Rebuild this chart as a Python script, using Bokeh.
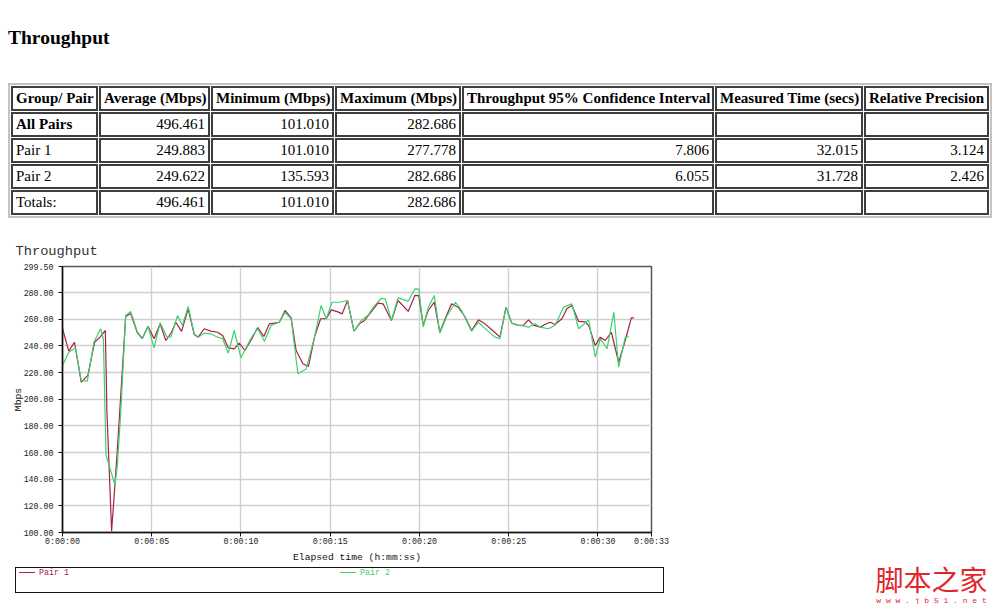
from bokeh.plotting import figure
from bokeh.models import (Range1d, FixedTicker, PrintfTickFormatter, Div, Label)
from bokeh.layouts import column, row
from bokeh.embed import file_html
from bokeh.resources import INLINE

# ---------------- data ----------------
table_headers = ["Group/ Pair", "Average (Mbps)", "Minimum (Mbps)", "Maximum (Mbps)",
                 "Throughput 95% Confidence Interval", "Measured Time (secs)",
                 "Relative Precision"]
row_names = ["All Pairs", "Pair 1", "Pair 2", "Totals:"]
avg_mbps = ["496.461", "249.883", "249.622", "496.461"]
min_mbps = ["101.010", "101.010", "135.593", "101.010"]
max_mbps = ["282.686", "277.778", "282.686", "282.686"]
conf_95 = ["", "7.806", "6.055", ""]
measured_secs = ["", "32.015", "31.728", ""]
rel_precision = ["", "3.124", "2.426", ""]

series_names = ["Pair 1", "Pair 2"]

pair1_time = [0.00, 0.35, 0.67, 1.05, 1.42, 1.80, 2.10, 2.40, 2.49, 2.66,
              2.75, 2.88, 3.07, 3.54, 3.82, 4.19, 4.47, 4.79, 5.13, 5.47,
              5.79, 6.10, 6.35, 6.67, 7.04, 7.38, 7.60, 7.94, 8.31, 8.69,
              8.97, 9.29, 9.62, 9.90, 10.22, 10.59, 10.94, 11.28, 11.59, 11.85,
              12.15, 12.47, 12.81, 13.09, 13.47, 13.78, 14.12, 14.46, 14.78, 15.06,
              15.43, 15.67, 15.97, 16.33, 16.65, 16.93, 17.15, 17.68, 17.96, 18.43,
              18.80, 19.37, 19.74, 19.96, 20.21, 20.49, 20.83, 21.14, 21.46, 21.80,
              22.17, 22.54, 22.92, 23.30, 23.67, 24.10, 24.51, 24.85, 25.17, 25.55,
              25.83, 26.11, 26.39, 26.76, 27.02, 27.32, 27.60, 27.98, 28.26, 28.54,
              28.92, 29.29, 29.49, 29.85, 30.13, 30.41, 30.75, 31.16, 31.53, 31.87,
              32.02]
pair1_mbps = [253, 236, 242.7, 212.8, 217.8, 242.7, 246.5, 251.5, 190, 133,
              101.01, 125, 161.5, 262, 264.2, 250, 245.5, 254.7, 245.3, 256.5,
              244, 250, 257.7, 250.8, 267.8, 248.5, 246.5, 252.8, 251, 250.2,
              247.7, 238.5, 237.7, 242, 236.5, 245, 253.7, 247, 256.5, 257,
              257.7, 266.5, 261, 236.5, 226.5, 224.5, 246.5, 260.3, 260.3, 267,
              265.5, 264, 274, 251, 256.7, 259, 263, 272, 271.5, 259,
              274, 265.8, 277.78, 277.6, 255.3, 266.5, 272.8, 250.2, 261, 271.5,
              269, 262, 251.5, 259.5, 256.5, 251.5, 246.5, 269, 257, 255.3,
              255.5, 259.5, 255.5, 254, 256, 257.7, 256, 260.3, 267.8, 270.3,
              258.3, 258, 255, 240.2, 246.5, 244, 250.2, 227.7, 244, 261,
              261]

pair2_time = [0.00, 0.35, 0.73, 1.05, 1.39, 1.76, 2.13, 2.29, 2.44, 2.70,
              2.94, 3.07, 3.26, 3.54, 3.82, 4.20, 4.48, 4.79, 5.13, 5.47,
              5.84, 6.07, 6.44, 6.72, 7.04, 7.38, 7.60, 7.94, 8.31, 8.69,
              8.97, 9.29, 9.62, 10.00, 10.38, 10.62, 10.94, 11.31, 11.69, 12.15,
              12.47, 12.81, 13.19, 13.65, 14.12, 14.49, 14.78, 15.10, 15.52, 15.97,
              16.33, 16.74, 17.12, 17.47, 17.87, 18.09, 18.43, 18.80, 19.37, 19.74,
              19.96, 20.21, 20.49, 20.83, 21.14, 21.52, 22.02, 22.36, 22.92, 23.30,
              23.76, 24.23, 24.51, 24.85, 25.17, 25.55, 25.83, 26.11, 26.48, 26.76,
              27.23, 27.60, 28.07, 28.54, 28.92, 29.48, 29.85, 30.13, 30.51, 30.89,
              31.16, 31.53, 31.73]
pair2_mbps = [225.3, 235.2, 238.5, 214, 213.5, 242.7, 252.8, 245.3, 158, 146.3,
              135.59, 150, 189, 262.7, 265.7, 250.2, 245.5, 254.7, 238.5, 257.3,
              247, 246.5, 262.7, 255.3, 269.5, 249, 246.5, 249.5, 249, 246.5,
              245.3, 234.5, 251.5, 231, 241, 247, 252.8, 243.5, 255.3, 257.7,
              265.2, 260.3, 219, 222.7, 246.5, 270.3, 260.3, 272.7, 272.7, 274,
              251, 259, 263, 270, 275.7, 275, 259, 276, 273.5, 282.69,
              282.6, 254, 268.8, 277.8, 249.5, 262, 272.7, 266.5, 251, 257.7,
              252, 246.5, 245.3, 269, 257, 255.3, 255, 254, 256.5, 254,
              252.8, 255.5, 269, 271.5, 252.8, 259.5, 231.5, 245.3, 237.8, 265.2,
              224, 246.5, 247]

y_ticks = [100, 120, 140, 160, 180, 200, 220, 240, 260, 280, 299.5]
x_ticks = [0, 5, 10, 15, 20, 25, 30, 33]
x_tick_labels = ["0:00:00", "0:00:05", "0:00:10", "0:00:15", "0:00:20",
                 "0:00:25", "0:00:30", "0:00:33"]

chart_title = "Throughput"
page_heading = "Throughput"
x_label = "Elapsed time (h:mm:ss)"
y_label = "Mbps"
watermark_cn = "脚本之家"
watermark_url = "w w w . j b 5 1 . n e t"

# ---------------- styles ----------------
RED = "#a8213f"
GREEN = "#3dd16f"
MONO = "Liberation Mono"
SERIF = "'Liberation Serif', 'Times New Roman', serif"
col_widths = [87, 111, 123, 126, 252, 148, 125]

# ---------------- heading + table (HTML) ----------------
def td(text, width, align, bold=False, tag="td"):
    style = ("box-sizing:border-box;width:%dpx;height:25px;border:2px solid #3e3e3e;"
             "padding:0 3px;white-space:nowrap;overflow:visible;vertical-align:middle;"
             "text-align:%s;font-weight:%s;" % (width, align, "bold" if bold else "normal"))
    return "<%s style=\"%s\">%s</%s>" % (tag, style, text, tag)

rows_html = "<tr>" + "".join(td(h, w, "center", True, "th")
                             for h, w in zip(table_headers, col_widths)) + "</tr>"
for i, name in enumerate(row_names):
    vals = [avg_mbps[i], min_mbps[i], max_mbps[i], conf_95[i], measured_secs[i], rel_precision[i]]
    cells = td(name, col_widths[0], "left", bold=(i == 0))
    cells += "".join(td(v, w, "right") for v, w in zip(vals, col_widths[1:]))
    rows_html += "<tr>" + cells + "</tr>"

html = (
    "<div style=\"position:relative;width:992px;height:232px;font-family:%s;color:#000;\">"
    "<div style=\"position:absolute;left:8px;top:27px;font-size:19.5px;line-height:22px;"
    "font-weight:bold;\">%s</div>"
    "<table style=\"position:absolute;left:8px;top:83px;width:982px;table-layout:fixed;"
    "border-collapse:separate;border-spacing:1px;border:2px solid #c4c4c4;"
    "font-size:15px;line-height:17px;\">%s</table></div>"
) % (SERIF, page_heading, rows_html)

top_div = Div(text=html, width=992, height=232, margin=0)

# ---------------- chart ----------------
p = figure(width=671, height=334, x_range=Range1d(0, 33), y_range=Range1d(100, 299.5),
           output_backend="svg", toolbar_location=None, title=chart_title,
           min_border_left=62, min_border_right=20, min_border_top=34, min_border_bottom=34)
p.title.text_font = MONO
p.title.text_font_size = "13.7px"
p.title.text_font_style = "normal"
p.title.text_color = "#333333"
p.title.align = "left"
p.title.offset = -47
p.title.standoff = 16

p.line(pair1_time, pair1_mbps, color=RED, line_width=1.2)
p.line(pair2_time, pair2_mbps, color=GREEN, line_width=1.2)

for ax in (p.xaxis[0], p.yaxis[0]):
    ax.major_label_text_font = MONO
    ax.major_label_text_font_size = "8.3px"
    ax.major_label_text_color = "#222222"
    ax.axis_label_text_font = MONO
    ax.axis_label_text_font_size = "9.7px"
    ax.axis_label_text_font_style = "normal"
    ax.axis_label_text_color = "#111111"
    ax.axis_line_color = "#111111"
    ax.axis_line_width = 1.5
    ax.major_tick_line_color = "#111111"
    ax.major_tick_out = 4
    ax.major_tick_in = 0
    ax.minor_tick_line_color = None

p.yaxis[0].ticker = FixedTicker(ticks=y_ticks)
p.yaxis[0].formatter = PrintfTickFormatter(format="%.2f")
p.yaxis[0].major_label_standoff = 5
p.yaxis[0].axis_label = y_label
p.yaxis[0].axis_label_standoff = -3

p.xaxis[0].ticker = FixedTicker(ticks=x_ticks)
p.xaxis[0].major_label_overrides = {t: s for t, s in zip(x_ticks, x_tick_labels)}
p.xaxis[0].major_label_standoff = 0
p.xaxis[0].axis_label = x_label
p.xaxis[0].axis_label_standoff = 3

p.grid.grid_line_color = "#d0d0d0"
p.grid.grid_line_width = 1.4
p.outline_line_color = "#555555"
p.outline_line_width = 1.5
p.background_fill_color = "white"
p.border_fill_color = "white"

# ---------------- legend box (HTML) ----------------
def legend_item(name, color, x):
    return ("<div style=\"position:absolute;left:%dpx;top:6px;width:16px;height:0;"
            "border-top:1.2px solid %s;\"></div>"
            "<div style=\"position:absolute;left:%dpx;top:0px;line-height:14px;"
            "font-family:'%s';font-size:8.3px;color:%s;white-space:nowrap;\">%s</div>"
            % (x, color, x + 20, MONO, color, name))

legend_html = (
    "<div style=\"position:relative;width:671px;height:38px;\">"
    "<div style=\"position:absolute;left:15px;top:1px;width:649px;height:26px;"
    "box-sizing:border-box;border:1px solid #111;\"></div>"
    + legend_item(series_names[0], RED, 19)
    + legend_item(series_names[1], GREEN, 340)
    + "</div>"
)
legend_div = Div(text=legend_html, width=671, height=38, margin=0)

# ---------------- watermark ----------------
wm = figure(width=321, height=372, x_range=Range1d(0, 321), y_range=Range1d(372, 0),
            output_backend="svg", toolbar_location=None, x_axis_type=None, y_axis_type=None,
            min_border=0)
wm.outline_line_color = None
wm.border_fill_color = "white"
wm.add_layout(Label(x=260, y=346, text=watermark_cn, text_font="Noto Sans CJK SC",
                    text_font_size="28px", text_color="#e3262b", text_align="center",
                    text_baseline="middle"))
wm.add_layout(Label(x=260, y=368, text=watermark_url, text_font=MONO,
                    text_font_size="8px", text_color="#e3262b", text_align="center",
                    text_baseline="middle"))

layout = column(top_div, row(column(p, legend_div, spacing=0), wm, spacing=0), spacing=0)

open("out.html", "w").write(file_html(layout, INLINE))
